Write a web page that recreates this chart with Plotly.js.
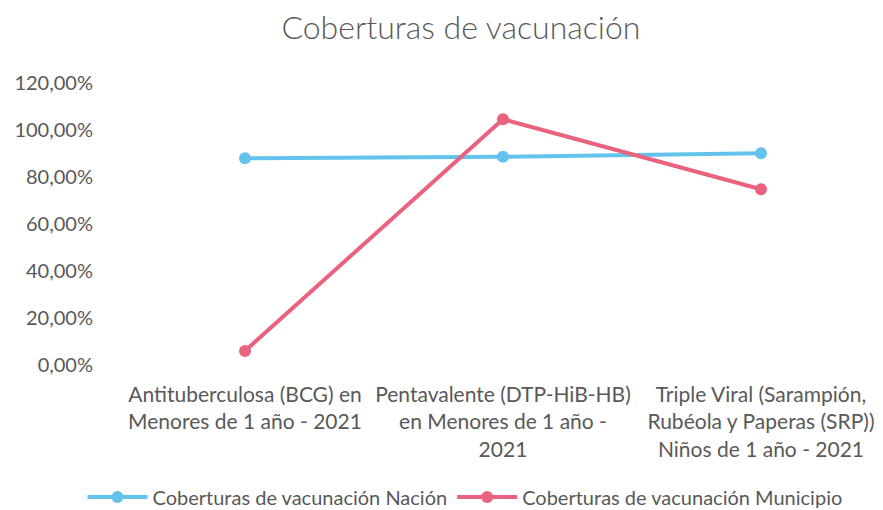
<!DOCTYPE html>
<html>
<head>
<meta charset="utf-8">
<script src="https://cdn.plot.ly/plotly-3.0.1.min.js"></script>
<style>html,body{margin:0;padding:0;background:#fff;}#chart{width:883px;height:510px;}</style>
</head>
<body>
<div id="chart"></div>
<script>
const categories = [
  "Antituberculosa (BCG) en<br>Menores de 1 año - 2021",
  "Pentavalente (DTP-HiB-HB)<br>en Menores de 1 año -<br>2021",
  "Triple Viral (Sarampión,<br>Rubéola y Paperas (SRP))<br>Niños de 1 año - 2021"
];
const nacion = [0.880, 0.886, 0.901];
const municipio = [0.060, 1.046, 0.748];
const seriesNames = ["Coberturas de vacunación Nación", "Coberturas de vacunación Municipio"];
const yTicks = [0, 0.2, 0.4, 0.6, 0.8, 1.0, 1.2];

const FONT = "Lato, 'Open Sans', sans-serif";
const GREY = "#595959";

const traces = [
  {x: categories, y: nacion, name: seriesNames[0], type: "scatter", mode: "lines+markers",
   line: {color: "#63C3EC", width: 4}, marker: {color: "#63C3EC", size: 12}},
  {x: categories, y: municipio, name: seriesNames[1], type: "scatter", mode: "lines+markers",
   line: {color: "#E9637F", width: 4}, marker: {color: "#E9637F", size: 12}}
];

const layout = {
  width: 883, height: 510,
  paper_bgcolor: "#fff", plot_bgcolor: "#fff",
  separators: ",.",
  margin: {l: 116, r: 0, t: 83, b: 145, autoexpand: false},
  title: {text: "Coberturas de vacunación", x: 0.522, xanchor: "center", y: 0.945, yanchor: "middle",
          font: {family: FONT, size: 32, color: GREY, weight: 300}},
  font: {family: FONT, color: GREY},
  xaxis: {type: "category", range: [-0.5, 2.473], showgrid: false, zeroline: false, showline: false,
          ticks: "", tickfont: {family: FONT, size: 21, color: GREY}, ticklabelstandoff: 15},
  yaxis: {range: [0, 1.2], tickvals: yTicks, tickformat: ".2%", showgrid: false, zeroline: false,
          showline: false, ticks: "", tickfont: {family: FONT, size: 20, color: GREY}, ticklabelstandoff: 22},
  legend: {orientation: "h", x: 0.455, xanchor: "center", y: -0.468, yanchor: "middle",
           itemwidth: 60, font: {family: FONT, size: 20, color: GREY}},
  showlegend: true
};

Plotly.newPlot("chart", traces, layout, {displayModeBar: false, staticPlot: true});
</script>
</body>
</html>
